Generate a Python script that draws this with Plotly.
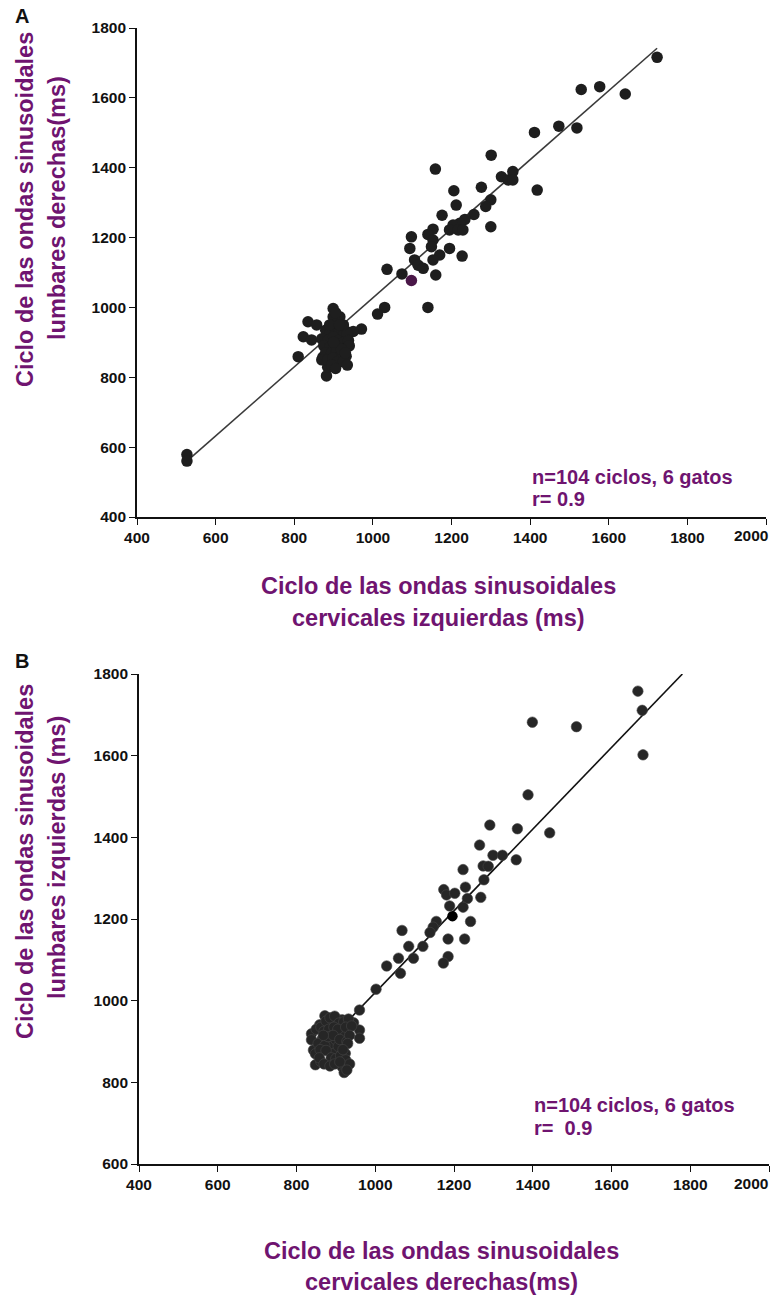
import plotly.graph_objects as go

# ---------------- Panel A data ----------------
a_x = [1723, 1642, 1577, 1530, 1519, 1473, 1411,
       1418, 1301, 1159,
       1327, 1344, 1356, 1356,
       1276, 1206, 1212, 1300, 1287,
       1257, 1234, 1221, 1204, 1195, 1217, 1229,
       1176, 1300,
       1153, 1140, 1153, 1149,
       1098, 1094, 1195,
       1170, 1153, 1227,
       1106, 1115, 1128,
       1036, 1074, 1160,
       1140, 1030, 1012,
       527, 527,
       899, 916, 899, 835, 857, 823, 844, 810, 882, 971, 950, 933, 885, 916, 873,
       880, 890, 905, 915, 925, 935, 870, 885, 900, 912, 925, 938, 875, 890, 902,
       915, 928, 940, 880, 895, 908, 920, 932, 870, 885, 898, 910, 925, 935, 895,
       905, 920, 900, 910, 925, 890, 905, 915, 930]
a_y = [1716, 1611, 1632, 1624, 1514, 1519, 1501,
       1336, 1436, 1396,
       1374, 1365, 1389, 1365,
       1344, 1334, 1293, 1308, 1289,
       1266, 1252, 1241, 1236, 1222, 1222, 1222,
       1264, 1231,
       1224, 1209, 1193, 1174,
       1202, 1169, 1169,
       1150, 1136, 1147,
       1136, 1121, 1112,
       1109, 1096, 1093,
       1000, 1000, 981,
       579, 560,
       997, 973, 973, 959, 950, 916, 907, 859, 804, 938, 931, 931, 829, 844, 858,
       935, 925, 940, 930, 920, 925, 910, 905, 915, 905, 900, 905, 890, 885, 895,
       885, 880, 890, 870, 870, 875, 865, 860, 850, 850, 855, 845, 845, 835, 835,
       825, 880, 900, 960, 950, 950, 985, 950, 870]
a_purple_x = [1098]
a_purple_y = [1077]
a_fit_x = [527, 1723]
a_fit_y = [560, 1742]

# ---------------- Panel B data ----------------
b_x = [1667, 1678, 1680, 1399, 1511, 1388, 1443,
       1291, 1361, 1265, 1299, 1323, 1358, 1274, 1287, 1223, 1276, 1229,
       1174, 1181, 1202, 1234, 1268, 1189, 1223, 1155, 1147, 1242,
       1068, 1139, 1185, 1227,
       1185, 1173, 1085, 1121, 1059, 1097, 1029, 1064, 1002, 960,
       872, 859, 890, 906, 916, 945, 960, 960,
       838, 838, 843, 864, 848, 862, 885, 895, 900, 906, 916, 924, 916, 921, 906,
       850, 862, 875, 885, 897, 908, 920, 932, 870, 882, 895, 905, 925, 940,
       855, 872, 880, 893, 910, 928, 935, 848, 860, 875, 888, 900, 912, 925,
       935, 930, 858, 870, 885, 897, 910, 928, 868, 918]
b_y = [1758, 1711, 1602, 1682, 1671, 1504, 1411,
       1430, 1421, 1381, 1356, 1356, 1345, 1330, 1329, 1321, 1296, 1278,
       1272, 1259, 1263, 1250, 1253, 1232, 1229, 1194, 1180, 1194,
       1172, 1167, 1151, 1151,
       1108, 1092, 1133, 1133, 1104, 1104, 1085, 1067, 1028, 977,
       963, 941, 945, 953, 953, 946, 928, 908,
       919, 904, 879, 904, 843, 851, 892, 871, 904, 920, 920, 871, 838, 824, 888,
       930, 935, 950, 958, 962, 945, 948, 955, 925, 930, 935, 930, 935, 938,
       895, 890, 912, 915, 905, 900, 915, 870, 880, 878, 860, 858, 865, 855,
       845, 895, 860, 845, 840, 845, 850, 830, 915, 880]
b_black_x = [1196]
b_black_y = [1207]
b_fit_x = [870, 1780]
b_fit_y = [890, 1800]

x_ticks = [400, 600, 800, 1000, 1200, 1400, 1600, 1800, 2000]
a_y_ticks = [400, 600, 800, 1000, 1200, 1400, 1600, 1800]
b_y_ticks = [600, 800, 1000, 1200, 1400, 1600, 1800]

W, H = 771, 1298
PURPLE = "#6f1470"
FONT = "Liberation Sans, Arial, sans-serif"


def px(v):
    return v / W


def py(v):
    return 1 - v / H


fig = go.Figure()

mk = dict(color="#1e1e1e", size=11.5, line=dict(width=0))
fig.add_trace(go.Scatter(x=a_fit_x, y=a_fit_y, mode="lines",
                         line=dict(color="#3a3a3a", width=1.6),
                         xaxis="x", yaxis="y", showlegend=False))
fig.add_trace(go.Scatter(x=a_x, y=a_y, mode="markers", marker=mk,
                         xaxis="x", yaxis="y", showlegend=False))
fig.add_trace(go.Scatter(x=a_purple_x, y=a_purple_y, mode="markers",
                         marker=dict(color="#4a1748", size=11.5),
                         xaxis="x", yaxis="y", showlegend=False))

fig.add_trace(go.Scatter(x=b_fit_x, y=b_fit_y, mode="lines",
                         line=dict(color="#111111", width=1.6),
                         xaxis="x2", yaxis="y2", showlegend=False))
fig.add_trace(go.Scatter(x=b_x, y=b_y, mode="markers",
                         marker=dict(color="#262626", size=10.5,
                                     line=dict(width=0.6, color="#444")),
                         xaxis="x2", yaxis="y2", showlegend=False))
fig.add_trace(go.Scatter(x=b_black_x, y=b_black_y, mode="markers",
                         marker=dict(color="#000000", size=10.5),
                         xaxis="x2", yaxis="y2", showlegend=False))

tickfont = dict(family=FONT, size=15.5, color="#111", weight="bold")
axis_common = dict(showgrid=False, zeroline=False, showline=True,
                   linecolor="#111", linewidth=1.6, ticks="outside",
                   ticklen=6, tickwidth=1.4, tickcolor="#111",
                   tickfont=tickfont, automargin=False)

# the last x tick label sits at the right page edge; it is drawn right-aligned
x_ticktext = [str(v) for v in x_ticks[:-1]] + [""]
last_x_label = str(x_ticks[-1])

fig.update_layout(
    width=W, height=H,
    margin=dict(l=0, r=0, t=0, b=0),
    paper_bgcolor="white", plot_bgcolor="white",
    xaxis=dict(domain=[px(137), px(766)], range=[400, 2000],
               tickvals=x_ticks, ticktext=x_ticktext, anchor="y", **axis_common),
    yaxis=dict(domain=[py(517), py(28)], range=[400, 1800],
               tickvals=a_y_ticks, anchor="x", **axis_common),
    xaxis2=dict(domain=[px(139), px(769)], range=[400, 2000],
                tickvals=x_ticks, ticktext=x_ticktext, anchor="y2", **axis_common),
    yaxis2=dict(domain=[py(1164), py(674)], range=[600, 1800],
                tickvals=b_y_ticks, anchor="x2", **axis_common),
)

title_font = dict(family=FONT, size=23.5, color=PURPLE)
note_font = dict(family=FONT, size=20, color=PURPLE)
tick_ann_font = dict(family=FONT, size=15.5, color="#111", weight="bold")
annots = [
    dict(text="<b>A</b>", x=px(22), y=py(16), font=dict(family=FONT, size=20, color="#111")),
    dict(text="<b>B</b>", x=px(22), y=py(661), font=dict(family=FONT, size=20, color="#111")),
    dict(text=last_x_label, x=px(770), y=py(536), xanchor="right", font=tick_ann_font),
    dict(text=last_x_label, x=px(770), y=py(1183), xanchor="right", font=tick_ann_font),
    # panel A titles
    dict(text="<b>Ciclo de las ondas sinusoidales</b>", x=px(438), y=py(586), font=title_font),
    dict(text="<b>cervicales izquierdas (ms)</b>", x=px(438), y=py(618), font=title_font),
    dict(text="<b>Ciclo de las ondas sinusoidales</b>", x=px(25), y=py(210), font=title_font, textangle=-90),
    dict(text="<b>lumbares derechas(ms)</b>", x=px(57), y=py(208), font=title_font, textangle=-90),
    dict(text="<b>n=104 ciclos, 6 gatos</b>", x=px(530), y=py(477), xanchor="left", font=note_font),
    dict(text="<b>r= 0.9</b>", x=px(530), y=py(499), xanchor="left", font=note_font),
    # panel B titles
    dict(text="<b>Ciclo de las ondas sinusoidales</b>", x=px(441), y=py(1251), font=title_font),
    dict(text="<b>cervicales derechas(ms)</b>", x=px(441), y=py(1282), font=title_font),
    dict(text="<b>Ciclo de las ondas sinusoidales</b>", x=px(25), y=py(862), font=title_font, textangle=-90),
    dict(text="<b>lumbares izquierdas (ms)</b>", x=px(57), y=py(858), font=title_font, textangle=-90),
    dict(text="<b>n=104 ciclos, 6 gatos</b>", x=px(532), y=py(1105), xanchor="left", font=note_font),
    dict(text="<b>r=\u00a0 0.9</b>", x=px(532), y=py(1128), xanchor="left", font=note_font),
]
for a in annots:
    a.setdefault("xanchor", "center")
    a.update(xref="paper", yref="paper", yanchor="middle", showarrow=False)
    fig.add_annotation(**a)

fig.write_html("out.html")
